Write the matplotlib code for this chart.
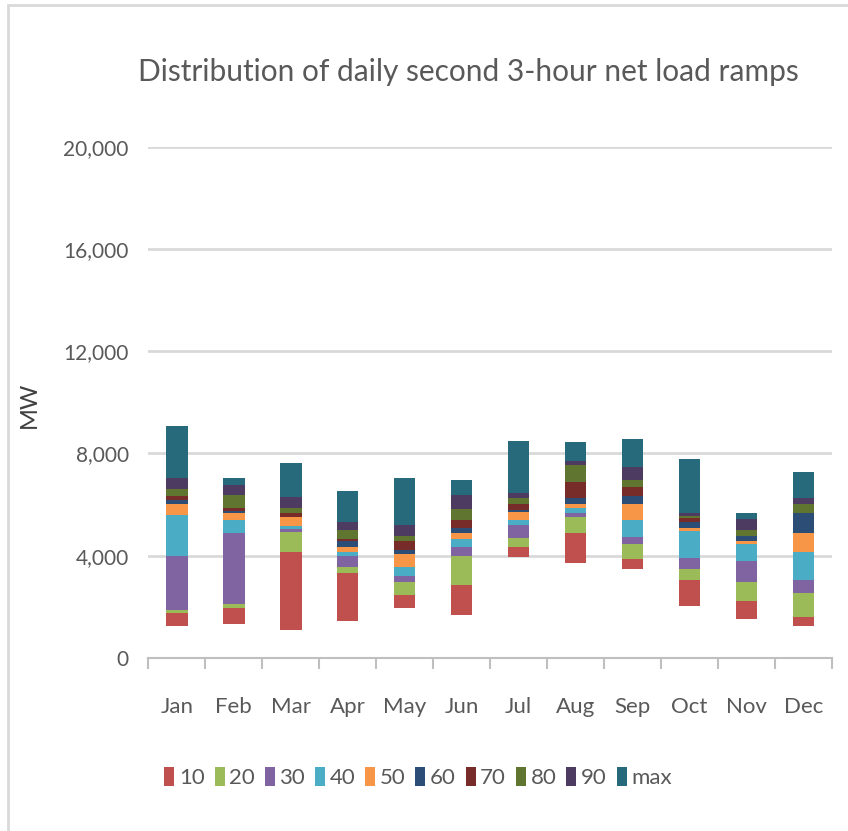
import matplotlib
matplotlib.use('Agg')
import matplotlib.pyplot as plt
import numpy as np
from matplotlib.patches import Rectangle

plt.rcParams['font.family'] = ['Lato', 'DejaVu Sans']

months = ['Jan', 'Feb', 'Mar', 'Apr', 'May', 'Jun', 'Jul', 'Aug', 'Sep', 'Oct', 'Nov', 'Dec']

# percentile levels of the daily ramps (MW); bars float from the minimum
p_min = [1250, 1310, 1090, 1460, 1970, 1680, 3940, 3700, 3500, 2050, 1540, 1250]
p10 = [1750, 1960, 4130, 3330, 2480, 2840, 4360, 4870, 3860, 3050, 2240, 1600]
p20 = [1890, 2110, 4930, 3560, 2980, 3990, 4710, 5510, 4440, 3490, 2980, 2530]
p30 = [4000, 4870, 5030, 4000, 3200, 4360, 5220, 5660, 4720, 3920, 3780, 3050]
p40 = [5590, 5380, 5160, 4130, 3570, 4660, 5380, 5880, 5380, 4950, 4440, 4130]
p50 = [6040, 5670, 5510, 4360, 4070, 4880, 5720, 6040, 6020, 5090, 4580, 4870]
p60 = [6170, 5750, 5530, 4590, 4230, 5090, 5770, 6250, 6330, 5300, 4780, 5660]
p70 = [6330, 5880, 5670, 4660, 4580, 5380, 6040, 6890, 6680, 5460, 4790, 5670]
p80 = [6600, 6390, 5880, 5010, 4790, 5810, 6250, 7550, 6970, 5540, 5010, 6020]
p90 = [7040, 6760, 6310, 5320, 5220, 6390, 6470, 7690, 7480, 5670, 5450, 6250]
p_max = [9080, 7050, 7630, 6540, 7030, 6970, 8490, 8430, 8560, 7770, 5660, 7260]

series_names = ['10', '20', '30', '40', '50', '60', '70', '80', '90', 'max']
colors = ['#C0504D', '#9BBB59', '#8064A2', '#4BACC6', '#F79646',
          '#2C4D75', '#772C2A', '#5F7530', '#4D3B62', '#276A7C']

levels = np.array([p_min, p10, p20, p30, p40, p50, p60, p70, p80, p90, p_max])

txt = '#595959'
fig = plt.figure(figsize=(8.48, 8.31), dpi=100)
ax = fig.add_axes([0.1749, 0.2082, 0.806, 0.6153])

x = np.arange(len(months))
for i in range(10):
    ax.bar(x, levels[i + 1] - levels[i], bottom=levels[i], width=0.38,
           color=colors[i], label=series_names[i], zorder=3)

ax.set_xlim(-0.5, 11.5)
ax.set_ylim(0, 20000)
ax.set_yticks(np.arange(0, 20001, 4000))
ax.set_yticklabels([f'{v:,}' for v in range(0, 20001, 4000)])
ax.set_xticks(x)
ax.set_xticklabels(months)
ax.set_xticks(np.arange(-0.5, 12, 1), minor=True)
ax.tick_params(axis='x', which='major', length=0, pad=28, labelsize=16, colors=txt)
ax.tick_params(axis='x', which='minor', length=8, width=1.5, color='#BFBFBF')
ax.tick_params(axis='y', length=0, pad=14, labelsize=15, colors=txt)
ax.grid(axis='y', color='#D9D9D9', lw=2, zorder=0)
for s in ['top', 'right', 'left']:
    ax.spines[s].set_visible(False)
ax.spines['bottom'].set_color('#BFBFBF')
ax.spines['bottom'].set_linewidth(1.5)

ax.set_ylabel('MW', fontsize=17, color='#404040')
ax.yaxis.set_label_coords(-0.158, 0.495)

fig.text(0.552, 0.913, 'Distribution of daily second 3-hour net load ramps',
         ha='center', va='center', fontsize=21.5, color=txt)

leg = fig.legend(loc='center', bbox_to_anchor=(0.493, 0.064), ncol=10, frameon=False,
                 fontsize=16, handlelength=0.45, handleheight=0.9, handletextpad=0.2,
                 columnspacing=0.45, labelcolor=txt)

fig.patches.append(Rectangle((8 / 848, -0.05), 1.2, 1 - 5 / 831 + 0.05, transform=fig.transFigure,
                             fill=False, edgecolor='#D9D9D9', lw=2))

plt.savefig('out.png', dpi=100)
